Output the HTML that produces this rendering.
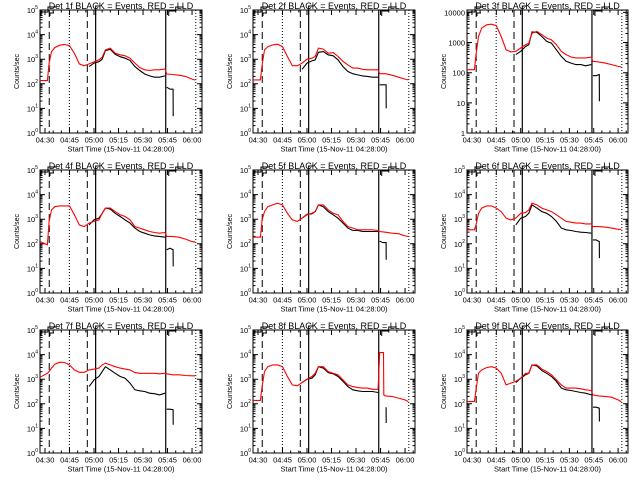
<!DOCTYPE html>
<html><head><meta charset="utf-8"><style>
html,body{margin:0;padding:0;background:#fff;}
svg{display:block;font-family:"Liberation Sans",sans-serif;}
</style></head><body>
<svg id="chart" width="640" height="480" viewBox="0 0 640 480" xmlns="http://www.w3.org/2000/svg"></svg>
<script>
// Time grid in minutes since 04:28:00
const timeGrid = [-1,3.5,4.5,6,8,11,14,17,20,23,26,29,32,35,37,39,42,45,48,51,54,57,60,63,66,69,72,75.5];
const blackGrid = [29,32,35,37,39,42,45,48,51,54,57,60,63,66,69,72,75.5];
const postGrid = [76.5,80,84,88,92,94];
const postBlackGrid = [76.5,78.5,80.4,80.5];
const detNames = ["1f","2f","3f","4f","5f","6f","7f","8f","9f"];
const tickLabels = ["04:30","04:45","05:00","05:15","05:30","05:45","06:00"];
const tickTimes = [2,17,32,47,62,77,92];
const vlineTimes = [4.6,16.9,27.9,33,75.9,94.3];
const vlineStyles = ["dash","dot","dash","solid","solid","dot"];
// log10 counts/sec, red (LLD)
const redLog = [
[2.13,2.13,2.84,3.3,3.47,3.57,3.6,3.55,3.24,2.81,2.73,2.81,2.89,2.97,3.08,3.38,3.45,3.24,3.18,3.14,3.04,2.84,2.66,2.57,2.54,2.57,2.57,2.6],
[2.16,2.16,2.77,3.38,3.51,3.58,3.61,3.51,3.11,2.74,2.73,2.84,3.0,3.04,3.11,3.45,3.41,3.24,3.27,3.11,2.91,2.77,2.64,2.64,2.59,2.57,2.57,2.57],
[2.1,2.1,2.6,3.2,3.48,3.59,3.61,3.56,3.2,2.76,2.69,2.71,2.82,2.93,2.98,3.31,3.37,3.26,3.15,3.09,2.93,2.71,2.6,2.52,2.49,2.49,2.49,2.52],
[2.09,1.96,2.91,3.38,3.51,3.54,3.54,3.54,3.18,2.77,2.7,2.84,2.91,2.97,3.24,3.45,3.45,3.31,3.18,3.11,2.97,2.7,2.64,2.57,2.5,2.46,2.43,2.46],
[2.27,2.27,2.97,3.31,3.51,3.58,3.65,3.58,3.24,2.97,2.91,3.04,3.18,3.24,3.31,3.58,3.58,3.38,3.24,3.18,2.91,2.7,2.64,2.57,2.57,2.57,2.57,2.54],
[2.57,2.57,2.77,3.24,3.45,3.54,3.54,3.45,3.31,3.04,2.97,3.04,3.24,3.27,3.38,3.65,3.58,3.45,3.38,3.31,3.18,3.04,2.91,2.88,2.84,2.84,2.81,2.81],
[3.08,3.24,3.31,3.45,3.61,3.69,3.68,3.58,3.38,3.28,3.28,3.38,3.41,3.45,3.58,3.65,3.58,3.51,3.45,3.41,3.38,3.27,3.24,3.24,3.24,3.24,3.22,3.24],
[2.14,2.14,2.7,3.31,3.51,3.58,3.58,3.51,3.11,2.77,2.73,2.86,3.0,3.11,3.24,3.51,3.51,3.31,3.24,3.18,2.97,2.77,2.7,2.66,2.64,2.64,2.59,2.59],
[2.09,2.09,2.57,3.24,3.38,3.47,3.51,3.45,3.24,2.77,2.84,2.91,3.04,3.24,3.24,3.58,3.58,3.41,3.31,3.18,2.97,2.77,2.64,2.64,2.64,2.61,2.57,2.54]
];
const redPostLog = [
[2.4,2.38,2.35,2.3,2.19,2.15],[2.41,2.41,2.35,2.27,2.19,2.16],[2.38,2.36,2.32,2.27,2.21,2.19],
[2.3,2.3,2.27,2.19,2.09,2.07],[2.5,2.47,2.43,2.41,2.32,2.3],[2.7,2.7,2.68,2.64,2.59,2.59],
[3.22,3.18,3.18,3.15,3.14,3.14],null,[2.36,2.32,2.3,2.27,2.16,2.09]
];
const det8PostTimes = [76.5,78.8,79.0,80,84,88,92,94];
const det8PostLog = [4.08,4.08,2.36,2.32,2.3,2.23,2.16,2.09];
// black (Events)
const blackLog = [
[2.7,2.84,2.9,3.0,3.35,3.4,3.2,3.1,3.04,2.95,2.7,2.54,2.4,2.32,2.27,2.27,2.32],
[2.59,2.84,2.93,2.97,3.28,3.31,3.18,3.14,2.97,2.7,2.5,2.41,2.36,2.32,2.3,2.27,2.27],
[2.6,2.71,2.87,2.93,3.35,3.34,3.2,3.04,2.98,2.76,2.54,2.38,2.32,2.27,2.27,2.23,2.27],
[2.77,2.97,3.04,3.24,3.45,3.41,3.24,3.11,2.97,2.84,2.64,2.5,2.43,2.36,2.32,2.3,2.27],
[3.04,3.2,3.22,3.31,3.58,3.51,3.31,3.18,3.04,2.84,2.64,2.54,2.54,2.5,2.5,2.5,2.5],
[2.77,3.04,3.11,3.24,3.58,3.45,3.31,3.24,3.11,2.91,2.64,2.57,2.54,2.5,2.47,2.46,2.43],
[2.7,2.97,3.11,3.31,3.51,3.38,3.24,3.11,3.04,2.84,2.57,2.53,2.5,2.43,2.41,2.36,2.43],
[2.86,3.0,3.04,3.18,3.51,3.45,3.27,3.22,3.11,2.91,2.7,2.57,2.53,2.5,2.5,2.5,2.46],
[2.86,3.04,3.18,3.24,3.58,3.54,3.35,3.24,3.11,2.91,2.64,2.57,2.54,2.5,2.46,2.43,2.36]
];
const blackPostLog = [
[1.86,1.78,1.78,0.68],[1.96,1.96,1.96,1.0],[1.9,1.9,1.94,1.05],
[1.76,1.82,1.76,1.08],[2.1,2.05,2.05,1.35],[2.16,2.16,2.09,1.42],
[1.78,1.78,1.76,1.15],[null,null,1.86,1.22],[1.86,1.86,1.82,1.28]
];
const yTopLog = [5,5,4.08,5,5,5,5,5,5];

const NS = "http://www.w3.org/2000/svg";
const svg = document.getElementById('chart');
const colLeft = [40,253,467], colW = [162,162,161], rowTop = [10,170,330], PH = 123;
const T0 = -1.06, T1 = 98.1;
function mk(tag, attrs, parent){const e=document.createElementNS(NS,tag);for(const k in attrs)e.setAttribute(k,attrs[k]);(parent||svg).appendChild(e);return e;}

for (let p=0;p<9;p++){
  const c=p%3, r=Math.floor(p/3);
  const L=colLeft[c], W=colW[c], T=rowTop[r], B=T+PH, top=yTopLog[p];
  const xs = t => L + (t-T0)/(T1-T0)*W;
  const ys = v => B - v/top*PH;
  const g = mk('g',{});
  
  
  const title = mk('text',{x:L+W/2,y:T-1,'font-size':9,'text-anchor':'middle',fill:'#000'},g);
  title.textContent='Det '+detNames[p]+' BLACK = Events, RED = LLD';
  
  
  const xl = mk('text',{x:L+W/2,y:B+18.5,'font-size':7.5,'text-anchor':'middle',fill:'#000'},g);
  xl.textContent='Start Time (15-Nov-11 04:28:00)';
  
  
  const yl = mk('text',{x:0,y:0,'font-size':7,'text-anchor':'middle',fill:'#000',transform:`translate(${L-21},${T+PH/2}) rotate(-90)`},g);
  yl.textContent='Counts/sec';
  
  
  vlineTimes.forEach((t,i)=>{
    const st=vlineStyles[i];
    const ln=mk('line',{x1:xs(t),x2:xs(t),y1:T,y2:B,stroke:'#000','stroke-width':st==='solid'?1.2:1,'stroke-dasharray':st==='dash'?'7,4':(st==='dot'?'1,2':'none')},g);
    
    
  });
  const br=mk('path',{d:`M${L+1},${T+6}V${T+2}H${L+8}V${T-3}H${L+16} M${L+10},${T+6}V${T+3}H${L+14} M${xs(33)},${T+5}V${T-4}H${xs(33)+4} M${xs(75.9)+3},${T+6}V${T+1}H${xs(75.9)+10}V${T-3}H${xs(75.9)+18}`,fill:'none',stroke:'#000','stroke-width':1},g);
  
  
  const box=mk('rect',{x:L,y:T,width:W,height:PH,fill:'none',stroke:'#000','stroke-width':1},g);
  
  
  let tk='';
  for(let m=2;m<=T1;m+=5){const x=xs(m);const len=((m-2)%15===0)?5:2.5;tk+=`M${x},${B}v${-len}M${x},${T}v${len}`;}
  for(let d=0;d<Math.ceil(top);d++){for(let k=1;k<10;k++){const v=d+Math.log10(k);if(v>top)break;const y=ys(v);const len=k===1?5:2.5;tk+=`M${L},${y}h${len}M${L+W},${y}h${-len}`;}}
  const tp=mk('path',{d:tk,stroke:'#000','stroke-width':1,fill:'none'},g);
  
  
  tickLabels.forEach((lab,i)=>{
    const t=mk('text',{x:xs(tickTimes[i]),y:B+9.5,'font-size':7.5,'text-anchor':'middle',fill:'#000'},g);
    t.textContent=lab;
    
    
  });
  for(let d=0;d<=Math.floor(top);d++){
    const y=ys(d);
    const t=mk('text',{x:L-2,y:y+3,'font-size':7.5,'text-anchor':'end',fill:'#000'},g);
    if(p===2){t.textContent=String(Math.pow(10,d));}
    else{t.textContent='10';const s=mk('tspan',{dy:-4,'font-size':5},t);s.textContent=String(d);}
    
    
  }
  const line=(ts,vs,col,name)=>{
    let d='';let pen=false;
    ts.forEach((t,i)=>{const v=vs[i];if(v==null){pen=false;return;}d+=(pen?'L':'M')+xs(t).toFixed(1)+','+ys(v).toFixed(1);pen=true;});
    const e=mk('path',{d:d,fill:'none',stroke:col,'stroke-width':1.1},g);
    
    
  };
  line(blackGrid,blackLog[p],'#000','events-series');
  line(postBlackGrid,blackPostLog[p],'#000','events-series-late');
  line(timeGrid,redLog[p],'#f00','lld-series');
  if(p===7) line([75.5].concat(det8PostTimes),[redLog[p][27]].concat(det8PostLog),'#f00','lld-series-late');
  else line([75.5].concat(postGrid),[redLog[p][27]].concat(redPostLog[p]),'#f00','lld-series-late');
}
</script>
</body></html>
